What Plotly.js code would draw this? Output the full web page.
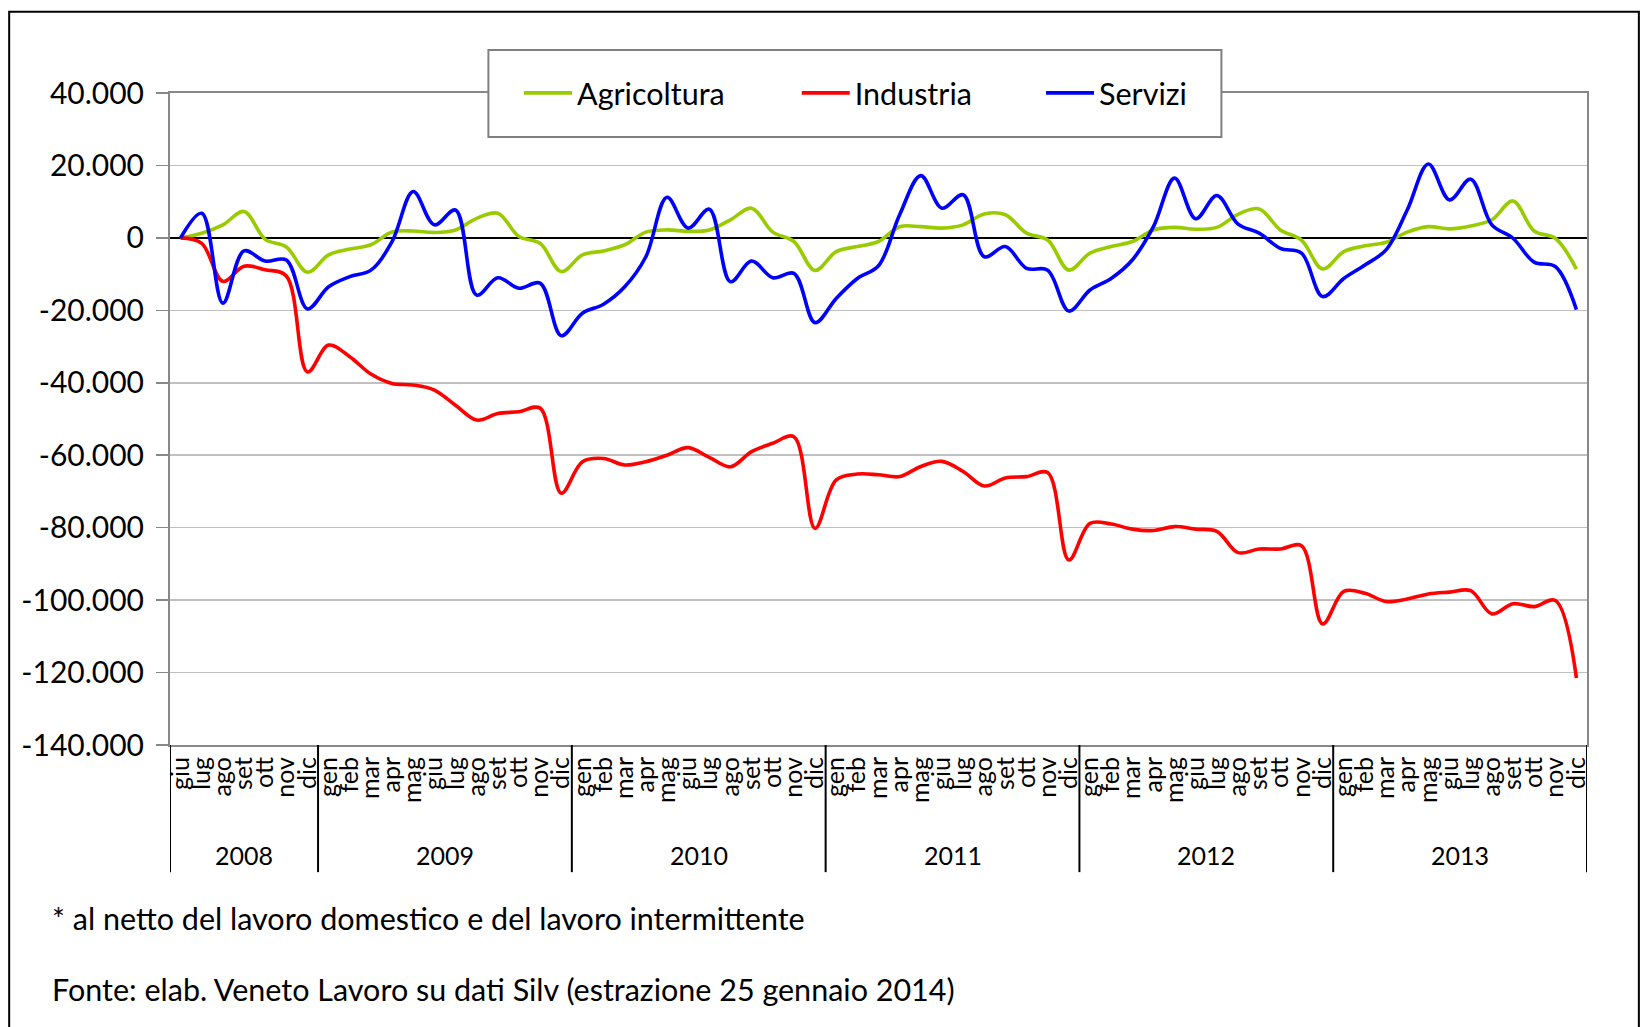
<!DOCTYPE html>
<html>
<head>
<meta charset="utf-8">
<script src="https://cdn.plot.ly/plotly-3.0.1.min.js"></script>
<style>
  html, body { margin: 0; padding: 0; background: #ffffff; }
  #chart { width: 1641px; height: 1027px; }
</style>
</head>
<body>
<div id="chart"></div>
<script>
// ---- Data ----
const yearLabels = ['2008', '2009', '2010', '2011', '2012', '2013'];
const monthsByYear = [
  ['giu','lug','ago','set','ott','nov','dic'],
  ['gen','feb','mar','apr','mag','giu','lug','ago','set','ott','nov','dic'],
  ['gen','feb','mar','apr','mag','giu','lug','ago','set','ott','nov','dic'],
  ['gen','feb','mar','apr','mag','giu','lug','ago','set','ott','nov','dic'],
  ['gen','feb','mar','apr','mag','giu','lug','ago','set','ott','nov','dic'],
  ['gen','feb','mar','apr','mag','giu','lug','ago','set','ott','nov','dic']
];

const agricoltura = [
  0, 1300, 3600, 7300, -400, -2500, -9500,
  -4700, -3100, -1900, 1600, 1900, 1500, 2200, 5400, 6800, 400, -1500, -9300,
  -4700, -3600, -1900, 1600, 2200, 1800, 2200, 5000, 8200, 1600, -1000, -9000,
  -3800, -2400, -1000, 3100, 3100, 2700, 3600, 6600, 6400, 1300, -600, -8900,
  -4200, -2400, -1000, 2200, 2900, 2400, 2900, 6500, 8000, 2200, -600, -8600,
  -3800, -2200, -1200, 1600, 3100, 2500, 3300, 5000, 10200, 1900, -100, -8600
];
const industria = [
  0, -1500, -12000, -7800, -8800, -10500, -37000,
  -29600, -32800, -37600, -40200, -40600, -42000, -46200, -50300, -48500, -48000, -47000, -70500,
  -61800, -60900, -62700, -61800, -60000, -57900, -60600, -63200, -59000, -56700, -54900, -80200,
  -66800, -65200, -65400, -65900, -63100, -61700, -64500, -68500, -66300, -65900, -64800, -88900,
  -78800, -79000, -80400, -80800, -79700, -80400, -81000, -86900, -85900, -85900, -85000, -106600,
  -97600, -98100, -100400, -99700, -98300, -97800, -97400, -103800, -101000, -101800, -100100, -121500
];
const servizi = [
  0, 6800, -18000, -3600, -6400, -6100, -19600,
  -13500, -10700, -8900, -1000, 12800, 3600, 7700, -15800, -11000, -13900, -12500, -27000,
  -20800, -18300, -13500, -5200, 11200, 2700, 7900, -12100, -6400, -11000, -9800, -23400,
  -16700, -11200, -7700, 6400, 17200, 8200, 11900, -5200, -2400, -8400, -8900, -20200,
  -14400, -11200, -6100, 3100, 16500, 5300, 11700, 3800, 1300, -2900, -4200, -16200,
  -11200, -7500, -3300, 7700, 20400, 10500, 16200, 3600, -100, -6700, -7900, -19800
];

const yTickVals = [40000, 20000, 0, -20000, -40000, -60000, -80000, -100000, -120000, -140000];
const yTickText = ['40.000', '20.000', '0', '-20.000', '-40.000', '-60.000', '-80.000', '-100.000', '-120.000', '-140.000'];

const footnote1 = '* al netto del lavoro domestico e del lavoro intermittente';
const footnote2 = 'Fonte: elab. Veneto Lavoro su dati Silv (estrazione 25 gennaio 2014)';

// ---- Derived structures ----
const monthLabels = [].concat(...monthsByYear);
const idx = monthLabels.map((_, i) => i);

const FONT = 'Lato, "Open Sans", sans-serif';

function series(name, values, color, legendId) {
  return {
    type: 'scatter', mode: 'lines', name: name,
    x: idx, y: values,
    line: { color: color, width: 3.6, shape: 'spline', smoothing: 1 },
    legend: legendId, hoverinfo: 'skip'
  };
}

const traces = [
  series('Agricoltura', agricoltura, '#99cc00', 'legend'),
  series('Industria', industria, '#ff0000', 'legend2'),
  series('Servizi', servizi, '#0000ff', 'legend3')
];

// year dividers and labels
const shapes = [];
const annotations = [];
let start = 0;
shapes.push({ type: 'line', xref: 'x', yref: 'paper', x0: -0.5, x1: -0.5, y0: 0, y1: -0.195,
              line: { color: '#000000', width: 2 } });
monthsByYear.forEach((m, k) => {
  const end = start + m.length;
  shapes.push({ type: 'line', xref: 'x', yref: 'paper', x0: end - 0.5, x1: end - 0.5, y0: 0, y1: -0.195,
                line: { color: '#000000', width: 2 } });
  annotations.push({ xref: 'x', yref: 'paper', x: (start + end - 1) / 2, y: -0.168,
                     text: yearLabels[k], showarrow: false, yanchor: 'middle',
                     font: { family: FONT, size: 25, color: '#000000' } });
  start = end;
});

// legend box
shapes.push({ type: 'rect', xref: 'paper', yref: 'paper', x0: 0.2247, x1: 0.742, y0: 0.9327, y1: 1.0661,
              fillcolor: '#ffffff', line: { color: '#808080', width: 2 }, layer: 'above' });
// outer frame
shapes.push({ type: 'rect', xref: 'paper', yref: 'paper', x0: -0.1135, x1: 1.0366, y0: -0.46, y1: 1.1245,
              fillcolor: 'rgba(0,0,0,0)', line: { color: '#000000', width: 2 }, layer: 'above' });

annotations.push({ xref: 'paper', yref: 'paper', x: -0.085, y: -0.265, xanchor: 'left', yanchor: 'middle',
                   text: footnote1, showarrow: false, font: { family: FONT, size: 30.5, color: '#000000' } });
annotations.push({ xref: 'paper', yref: 'paper', x: -0.085, y: -0.3744, xanchor: 'left', yanchor: 'middle',
                   text: footnote2, showarrow: false, font: { family: FONT, size: 30.5, color: '#000000' } });

function legendAt(x) {
  return { x: x, xanchor: 'left', y: 1.0, yanchor: 'middle', orientation: 'h',
           bgcolor: 'rgba(0,0,0,0)', borderwidth: 0, itemwidth: 48,
           font: { family: FONT, size: 30.5, color: '#000000' } };
}

const layout = {
  width: 1641, height: 1027,
  margin: { l: 170, r: 54, t: 93, b: 282, pad: 0 },
  paper_bgcolor: '#ffffff', plot_bgcolor: '#ffffff',
  font: { family: FONT, color: '#000000' },
  showlegend: true,
  legend: legendAt(0.2463),
  legend2: legendAt(0.4423),
  legend3: legendAt(0.6147),
  hovermode: false,
  xaxis: {
    range: [-0.5, 66.5], tickmode: 'array', tickvals: idx, ticktext: monthLabels,
    tickangle: -90, showgrid: false, zeroline: false,
    showline: true, linecolor: '#888888', linewidth: 2, mirror: true,
    ticks: '', tickfont: { family: FONT, size: 25, color: '#000000' }, fixedrange: true
  },
  yaxis: {
    range: [-140000, 40000], tickmode: 'array', tickvals: yTickVals, ticktext: yTickText,
    showgrid: true, gridcolor: '#c0c0c0', gridwidth: 1.5,
    zeroline: true, zerolinecolor: '#000000', zerolinewidth: 2,
    showline: true, linecolor: '#888888', linewidth: 2, mirror: true,
    ticks: 'outside', ticklen: 12, tickcolor: '#888888', tickwidth: 1.5,
    ticklabelstandoff: 6,
    tickfont: { family: FONT, size: 30, color: '#000000' }, fixedrange: true
  },
  shapes: shapes,
  annotations: annotations
};

Plotly.newPlot('chart', traces, layout, { displayModeBar: false, staticPlot: true });
</script>
</body>
</html>
